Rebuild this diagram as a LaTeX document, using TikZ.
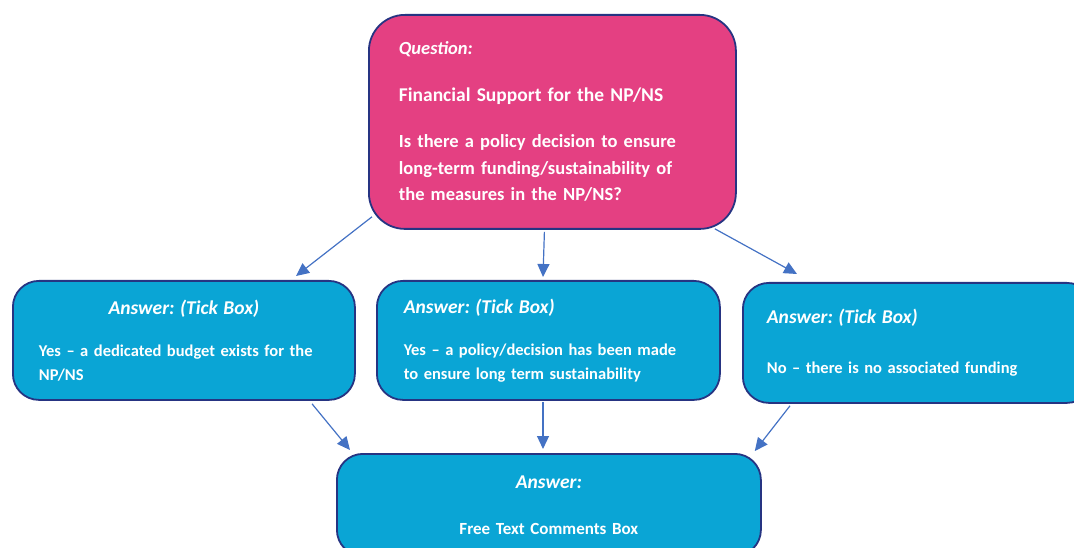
\documentclass[tikz,border=0pt]{standalone}
\usepackage{fontspec}
\setmainfont{Carlito}
\usetikzlibrary{positioning,arrows.meta,calc}
\definecolor{qpink}{RGB}{228,64,130}
\definecolor{ansblue}{RGB}{10,165,213}
\definecolor{rimblue}{RGB}{38,52,130}
\definecolor{linkblue}{RGB}{68,114,196}
\tikzset{>={Triangle[length=13pt,width=12pt]}}
\frenchspacing

\begin{document}
\begin{tikzpicture}[x=1pt, y=-1pt,
    box/.style={draw=rimblue, line width=1.8pt, rounded corners=26pt, text=white,
      font=\bfseries, anchor=north west, inner ysep=0pt, align=left},
    qbox/.style={box, fill=qpink, rounded corners=36pt},
    abox/.style={box, fill=ansblue},
    link/.style={->, draw=linkblue, line width=1.2pt}]
  \useasboundingbox (0,0) rectangle (1074,548);
  \clip (0,0) rectangle (1074,548);

  % question
  \node[qbox, minimum width=367pt, minimum height=214pt, inner xsep=30pt, text width=307pt,
    font=\bfseries\fontsize{18.5}{26.5}\selectfont] (q) at (368,14)
    {\textit{Question:}\\[20pt]
     {\fontsize{19.5}{26.5}\selectfont Financial Support for the NP/NS}\\[20pt]
     Is there a policy decision to ensure\\
     long-term funding/sustainability of\\
     the measures in the NP/NS?};

  % answers
  \node[abox, minimum width=342pt, minimum height=119pt, inner xsep=26pt, text width=290pt,
    font=\bfseries\fontsize{16.5}{24}\selectfont] (a1) at (12,280)
    {\makebox[\linewidth]{\fontsize{19.5}{20}\selectfont\itshape Answer: (Tick Box)}\\[18pt]
     Yes -- a dedicated budget exists for the\\
     NP/NS};
  \node[abox, minimum width=343pt, minimum height=119pt, inner xsep=27pt, text width=289pt,
    font=\bfseries\fontsize{16.5}{24}\selectfont] (a2) at (376,280)
    {{\fontsize{19.5}{20}\selectfont\itshape Answer: (Tick Box)}\\[18pt]
     Yes -- a policy/decision has been made\\
     to ensure long term sustainability};
  \node[abox, minimum width=350pt, minimum height=120pt, inner xsep=24pt, text width=302pt,
    font=\bfseries\fontsize{16.5}{24}\selectfont] (a3) at (742,282)
    {{\fontsize{19.5}{20}\selectfont\itshape Answer: (Tick Box)}\\[26pt]
     No -- there is no associated funding};
  \node[abox, minimum width=424pt, minimum height=102pt, inner xsep=20pt, text width=384pt,
    align=center, font=\bfseries\fontsize{17}{24}\selectfont] (fb) at (336,453)
    {{\fontsize{19.5}{20}\selectfont\itshape Answer:}\\[22pt]
     Free Text Comments Box};

  % links
  \draw[link] ($(q.south west)+(4,-13)$) -- ($(a1.north west)+(284,-4)$);
  \draw[link] ($(q.south)+(-8,2)$) -- ($(a2.north west)+(167,-3)$);
  \draw[link] ($(q.south east)+(-22,-1)$) -- ($(a3.north west)+(55,-8)$);
  \draw[link] ($(a1.south west)+(300,3)$) -- ($(fb.north west)+(14,-3)$);
  \draw[link] ($(a2.south west)+(167,1)$) -- ($(fb.north west)+(207,-4)$);
  \draw[link] ($(a3.south west)+(48,2)$) -- ($(fb.north east)+(-7,-2)$);
\end{tikzpicture}
\end{document}
